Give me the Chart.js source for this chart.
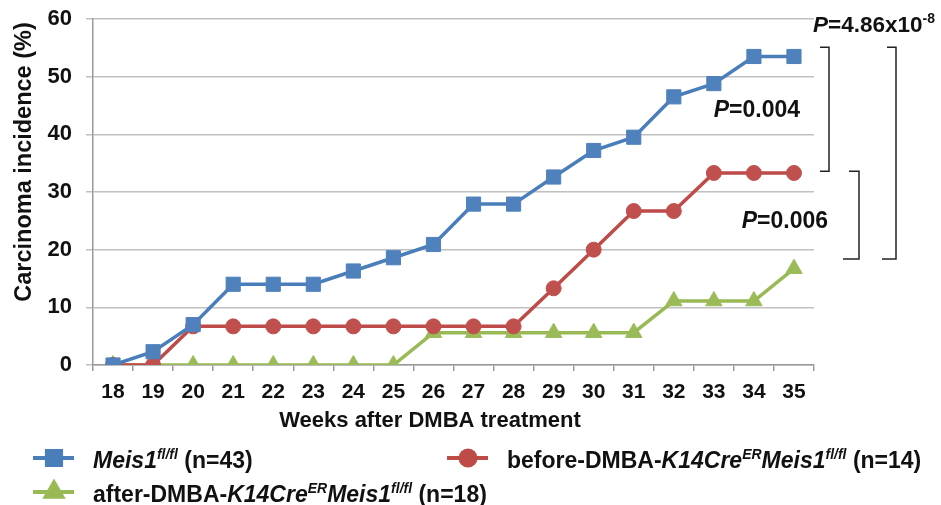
<!DOCTYPE html>
<html><head><meta charset="utf-8">
<script src="https://cdn.jsdelivr.net/npm/chart.js@4/dist/chart.umd.min.js"></script>
<style>html,body{margin:0;padding:0;background:#fff;}#wrap{width:941px;height:505px;}</style>
</head><body><div id="wrap"><canvas id="c" width="941" height="505"></canvas></div>
<script>
// ---- data ----
const weeks = ['18','19','20','21','22','23','24','25','26','27','28','29','30','31','32','33','34','35'];
const meis1 = [0,2.3,7.0,14.0,14.0,14.0,16.3,18.6,20.9,27.9,27.9,32.6,37.2,39.5,46.5,48.8,53.5,53.5];
const beforeDMBA = [0,0,6.7,6.7,6.7,6.7,6.7,6.7,6.7,6.7,6.7,13.3,20.0,26.7,26.7,33.3,33.3,33.3];
const afterDMBA = [0,0,0,0,0,0,0,0,5.6,5.6,5.6,5.6,5.6,5.6,11.1,11.1,11.1,16.7];
const yTicks = [0,10,20,30,40,50,60];
const xTitle = 'Weeks after DMBA treatment';
const yTitle = 'Carcinoma incidence (%)';
const pTexts = ['0.004','0.006','4.86x10'];

const FONT = '"Liberation Sans", Arial, sans-serif';
const C_BLUE = '#4a7ebb', C_RED = '#be4b48', C_GREEN = '#98b954';

// rich text segments: [text, italic, superscript]
const legendItems = [
  {color:C_BLUE, style:'rect', segs:[['Meis1',1,0],['fl/fl',1,1],[' (n=43)',0,0]]},
  {color:C_RED, style:'circle', segs:[['before-DMBA-',0,0],['K14Cre',1,0],['ER',1,1],['Meis1',1,0],['fl/fl',1,1],[' (n=14)',0,0]]},
  {color:C_GREEN, style:'triangle', segs:[['after-DMBA-',0,0],['K14Cre',1,0],['ER',1,1],['Meis1',1,0],['fl/fl',1,1],[' (n=18)',0,0]]}
];

function segFont(it, sup, size){ return (it?'italic ':'') + 'bold ' + (sup? Math.round(size*0.62): size) + 'px ' + FONT; }
function richWidth(ctx, segs, size){
  let w=0; segs.forEach(s=>{ctx.font=segFont(s[1],s[2],size); w+=ctx.measureText(s[0]).width;}); return w;
}
function drawRich(ctx, segs, x, y, size, align){
  let w = richWidth(ctx, segs, size);
  let cx = align==='right'? x-w : x;
  ctx.textBaseline='alphabetic'; ctx.textAlign='left';
  segs.forEach(s=>{
    ctx.font=segFont(s[1],s[2],size);
    ctx.fillText(s[0], cx, s[2]? y - size*0.4 : y);
    cx += ctx.measureText(s[0]).width;
  });
}

const annot = {
  id:'annot',
  afterDraw(chart){
    const {ctx, chartArea:ca, scales:{y}} = chart;
    ctx.save();
    ctx.fillStyle='#111';
    // y title
    ctx.save();
    ctx.translate(25, 162); ctx.rotate(-Math.PI/2);
    ctx.font='bold 23.5px '+FONT; ctx.textAlign='center'; ctx.textBaseline='middle';
    ctx.fillText(yTitle,0,0);
    ctx.restore();
    // x title
    ctx.font='bold 22px '+FONT; ctx.textAlign='center'; ctx.textBaseline='alphabetic';
    ctx.fillText(xTitle, 430, 427);
    // brackets
    ctx.strokeStyle='#222'; ctx.lineWidth=1.5;
    const R = ca.right;
    const br = [
      {t:55.1, b:33.6, x:R+15, tt:9, tb:9},
      {t:33.6, b:18.4, x:R+45, tt:10, tb:16},
      {t:55.1, b:18.4, x:R+82, tt:9, tb:14}
    ];
    br.forEach(o=>{
      const yt=y.getPixelForValue(o.t), yb=y.getPixelForValue(o.b);
      ctx.beginPath(); ctx.moveTo(o.x-o.tt, yt); ctx.lineTo(o.x, yt); ctx.lineTo(o.x, yb); ctx.lineTo(o.x-o.tb, yb); ctx.stroke();
    });
    // P values
    ctx.fillStyle='#111';
    drawRich(ctx, [['P',1,0],['='+pTexts[0],0,0]], R-14, y.getPixelForValue(44.4)+8, 23, 'right');
    drawRich(ctx, [['P',1,0],['='+pTexts[1],0,0]], R+14, y.getPixelForValue(25.1)+8, 23, 'right');
    drawRich(ctx, [['P',1,0],['='+pTexts[2],0,0],['-8',0,1]], R-1, 32, 22.5, 'left');
    // legend
    const rows = [{x:33, y:458, tx:93}, {x:447, y:458, tx:507}, {x:33, y:492, tx:93}];
    legendItems.forEach((it,i)=>{
      const p = rows[i];
      ctx.strokeStyle=it.color; ctx.fillStyle=it.color; ctx.lineWidth=4;
      ctx.beginPath(); ctx.moveTo(p.x, p.y); ctx.lineTo(p.x+41, p.y); ctx.stroke();
      Chart.helpers.drawPoint(ctx, {pointStyle:it.style, radius: it.style==='rect'?10:(it.style==='circle'?7.5:9.5), rotation:0, borderWidth:1}, p.x+21, p.y);
      ctx.fillStyle='#111';
      drawRich(ctx, it.segs, p.tx, p.y+10, 23, 'left');
    });
    ctx.restore();
  }
};

new Chart(document.getElementById('c'), {
  type:'line',
  data:{
    labels: weeks,
    datasets:[
      {label:'Meis1 fl/fl (n=43)', data:meis1, borderColor:C_BLUE, backgroundColor:'#4f81bd', pointBorderColor:'#4f81bd', borderWidth:3.5, pointStyle:'rect', pointRadius:10, pointBorderWidth:1, tension:0},
      {label:'before-DMBA-K14CreER Meis1 fl/fl (n=14)', data:beforeDMBA, borderColor:C_RED, backgroundColor:'#c0504d', pointBorderColor:'#c0504d', borderWidth:3.5, pointStyle:'circle', pointRadius:7.5, pointBorderWidth:1, tension:0},
      {label:'after-DMBA-K14CreER Meis1 fl/fl (n=18)', data:afterDMBA, borderColor:C_GREEN, backgroundColor:'#9bbb59', pointBorderColor:'#9bbb59', borderWidth:3.5, pointStyle:'triangle', pointRadius:9.5, pointBorderWidth:1, tension:0}
    ]
  },
  options:{
    responsive:false, animation:false, devicePixelRatio:1,
    layout:{padding:{left:0, right:127, top:19, bottom:70}},
    plugins:{legend:{display:false}, tooltip:{enabled:false}},
    scales:{
      x:{
        offset:true,
        grid:{display:true, drawOnChartArea:false, offset:true, tickLength:6, color:'#999', lineWidth:1.5},
        border:{display:true, color:'#999', width:1.5},
        ticks:{color:'#111', font:{family:FONT, size:21, weight:'bold'}, padding:9, maxRotation:0, autoSkip:false},
        title:{display:false},
        afterFit(s){ s.height = 70; s.paddingLeft = 0; s.paddingRight = 0; }
      },
      y:{
        min:0, max:60,
        afterBuildTicks(s){ s.ticks = yTicks.map(v=>({value:v})); },
        grid:{color:'#c0c0c0', lineWidth:1.5, tickLength:7},
        border:{display:true, color:'#999', width:1.5},
        ticks:{color:'#111', font:{family:FONT, size:22, weight:'bold'}, padding:14},
        afterFit(s){ s.width = 93; s.paddingTop = 0; s.paddingBottom = 0; }
      }
    }
  },
  plugins:[annot]
});
</script></body></html>
